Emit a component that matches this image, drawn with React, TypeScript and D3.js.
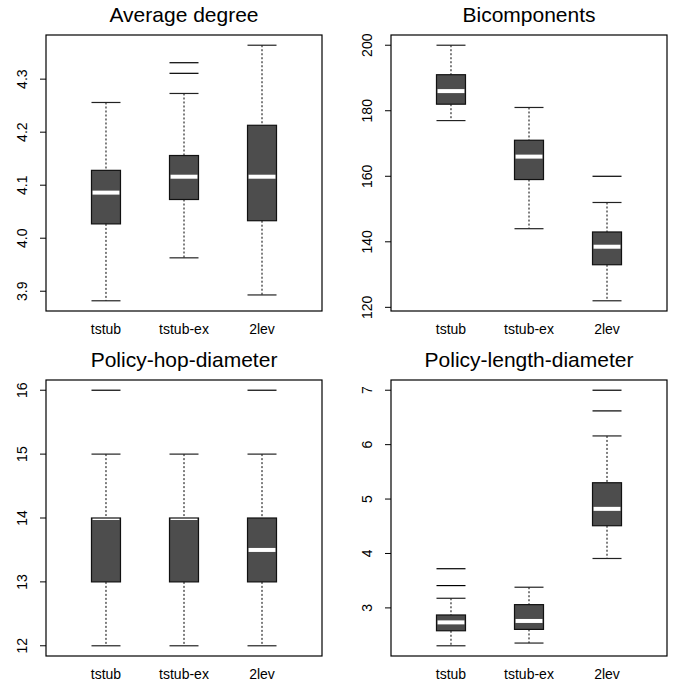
import React from "react";
import * as d3 from "d3";

const categories = ["tstub", "tstub-ex", "2lev"];

// Panel 1: Average degree
const avgTitle = "Average degree";
const avgLow = [3.882, 3.963, 3.893];
const avgQ1 = [4.027, 4.073, 4.033];
const avgMed = [4.086, 4.116, 4.116];
const avgQ3 = [4.128, 4.156, 4.213];
const avgHigh = [4.256, 4.273, 4.364];
const avgOut = [[], [4.311, 4.331], []];
const avgTicks = [3.9, 4.0, 4.1, 4.2, 4.3];
const avgTickLabels = ["3.9", "4.0", "4.1", "4.2", "4.3"];

// Panel 2: Bicomponents
const biTitle = "Bicomponents";
const biLow = [177, 144, 122];
const biQ1 = [182, 159, 133];
const biMed = [186, 166, 138.5];
const biQ3 = [191, 171, 143];
const biHigh = [200, 181, 152];
const biOut = [[], [], [160]];
const biTicks = [120, 140, 160, 180, 200];
const biTickLabels = ["120", "140", "160", "180", "200"];

// Panel 3: Policy-hop-diameter
const hopTitle = "Policy-hop-diameter";
const hopLow = [12, 12, 12];
const hopQ1 = [13, 13, 13];
const hopMed = [14, 14, 13.5];
const hopQ3 = [14, 14, 14];
const hopHigh = [15, 15, 15];
const hopOut = [[16], [], [16]];
const hopTicks = [12, 13, 14, 15, 16];
const hopTickLabels = ["12", "13", "14", "15", "16"];

// Panel 4: Policy-length-diameter
const lenTitle = "Policy-length-diameter";
const lenLow = [2.304, 2.354, 3.908];
const lenQ1 = [2.58, 2.605, 4.51];
const lenMed = [2.734, 2.76, 4.82];
const lenQ3 = [2.87, 3.06, 5.3];
const lenHigh = [3.177, 3.38, 6.16];
const lenOut = [[3.41, 3.72], [], [6.62, 7.0]];
const lenTicks = [3, 4, 5, 6, 7];
const lenTickLabels = ["3", "4", "5", "6", "7"];

type PanelData = {
  title: string;
  low: number[];
  q1: number[];
  med: number[];
  q3: number[];
  high: number[];
  out: number[][];
  ticks: number[];
  tickLabels: string[];
};

const panels: PanelData[] = [
  { title: avgTitle, low: avgLow, q1: avgQ1, med: avgMed, q3: avgQ3, high: avgHigh, out: avgOut, ticks: avgTicks, tickLabels: avgTickLabels },
  { title: biTitle, low: biLow, q1: biQ1, med: biMed, q3: biQ3, high: biHigh, out: biOut, ticks: biTicks, tickLabels: biTickLabels },
  { title: hopTitle, low: hopLow, q1: hopQ1, med: hopMed, q3: hopQ3, high: hopHigh, out: hopOut, ticks: hopTicks, tickLabels: hopTickLabels },
  { title: lenTitle, low: lenLow, q1: lenQ1, med: lenMed, q3: lenQ3, high: lenHigh, out: lenOut, ticks: lenTicks, tickLabels: lenTickLabels },
];

const FONT = "'Liberation Sans', Arial, Helvetica, sans-serif";
const PW = 276;
const PH = 276;
const origins = [
  [46, 35],
  [391, 35],
  [46, 380],
  [391, 380],
];
const BOXW = 29;

function Panel({ p, x0, y0 }: { p: PanelData; x0: number; y0: number }) {
  const all = [...p.low, ...p.high, ...p.out.flat()];
  const mn = d3.min(all) as number;
  const mx = d3.max(all) as number;
  const pad = (mx - mn) * 0.04;
  const y = d3.scaleLinear().domain([mn - pad, mx + pad]).range([y0 + PH, y0]);
  const x = d3.scalePoint<string>().domain(categories).range([x0, x0 + PW]).padding(0.769);
  const hw = BOXW / 2;
  return (
    <g>
      <text x={x0 + PW / 2} y={y0 - 12.7} textAnchor="middle" fontSize={21} fontFamily={FONT} fill="#000">
        {p.title}
      </text>
      {categories.map((c, i) => {
        const cx = x(c) as number;
        return (
          <g key={c}>
            <line x1={cx} x2={cx} y1={y(p.high[i])} y2={y(p.q3[i])} stroke="#000" strokeWidth={1} strokeDasharray="2,2" />
            <line x1={cx} x2={cx} y1={y(p.q1[i])} y2={y(p.low[i])} stroke="#000" strokeWidth={1} strokeDasharray="2,2" />
            <line x1={cx - hw} x2={cx + hw} y1={y(p.high[i])} y2={y(p.high[i])} stroke="#222" strokeWidth={1.2} />
            <line x1={cx - hw} x2={cx + hw} y1={y(p.low[i])} y2={y(p.low[i])} stroke="#222" strokeWidth={1.2} />
            <rect x={cx - hw} y={y(p.q3[i])} width={BOXW} height={y(p.q1[i]) - y(p.q3[i])} fill="#4d4d4d" />
            <line x1={cx - hw + 1} x2={cx + hw - 1} y1={y(p.med[i])} y2={y(p.med[i])} stroke="#fff" strokeWidth={4} />
            <rect x={cx - hw} y={y(p.q3[i])} width={BOXW} height={y(p.q1[i]) - y(p.q3[i])} fill="none" stroke="#111" strokeWidth={1.2} />
            {p.out[i].map((v, j) => (
              <line key={j} x1={cx - hw} x2={cx + hw} y1={y(v)} y2={y(v)} stroke="#000" strokeWidth={1.2} />
            ))}
            <text x={cx} y={y0 + PH + 23} textAnchor="middle" fontSize={14} fontFamily={FONT} fill="#000">
              {c}
            </text>
          </g>
        );
      })}
      {p.ticks.map((t, i) => (
        <g key={t}>
          <line x1={x0 - 6} x2={x0} y1={y(t)} y2={y(t)} stroke="#000" strokeWidth={1} />
          <text
            transform={`translate(${x0 - 19.5},${y(t)}) rotate(-90)`}
            textAnchor="middle"
            fontSize={14}
            fontFamily={FONT}
            fill="#000"
          >
            {p.tickLabels[i]}
          </text>
        </g>
      ))}
      <rect x={x0} y={y0} width={PW} height={PH} fill="none" stroke="#000" strokeWidth={1.2} />
    </g>
  );
}

export default function App() {
  return (
    <svg
      width={674}
      height={683}
      style={{ position: "absolute", left: 0, top: 0, background: "#fff" }}
    >
      <rect x={0} y={0} width={674} height={683} fill="#fff" />
      {panels.map((p, i) => (
        <Panel key={p.title} p={p} x0={origins[i][0]} y0={origins[i][1]} />
      ))}
    </svg>
  );
}
